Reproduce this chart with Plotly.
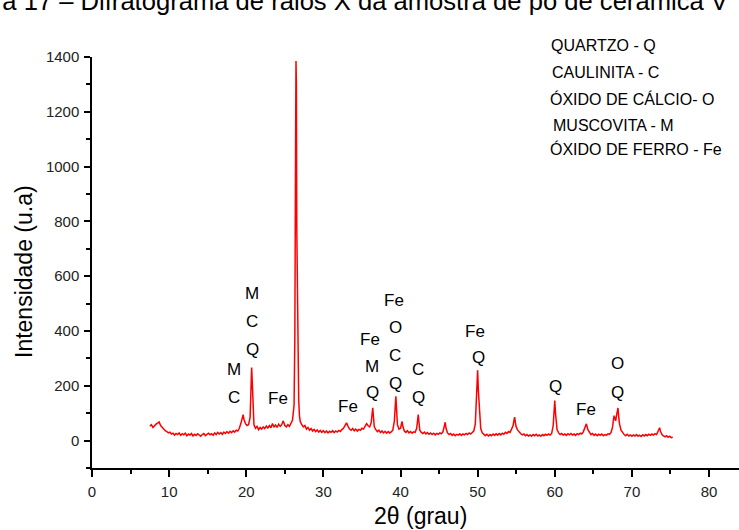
import plotly.graph_objects as go

# ---- data ----
two_theta = [
    7.5, 7.7, 7.9, 8.1, 8.3, 8.5, 8.7, 8.9, 9.1, 9.3, 9.5, 9.7, 9.9, 10.1, 10.3, 10.5, 10.7, 10.9,
    11.1, 11.3, 11.5, 11.7, 11.9, 12.1, 12.3, 12.5, 12.7, 12.9, 13.1, 13.3, 13.5, 13.7, 13.9,
    14.1, 14.3, 14.5, 14.7, 14.9, 15.1, 15.3, 15.5, 15.7, 15.9, 16.1, 16.3, 16.5, 16.7, 16.9,
    17.1, 17.3, 17.5, 17.7, 17.9, 18.1, 18.3, 18.5, 18.7, 18.9, 19.1, 19.3, 19.5, 19.6, 19.7,
    19.9, 20.1, 20.3, 20.5, 20.6, 20.7, 20.8, 20.9, 21.0, 21.2, 21.4, 21.6, 21.8, 22.0, 22.2,
    22.4, 22.6, 22.8, 23.0, 23.2, 23.4, 23.6, 23.8, 24.0, 24.2, 24.4, 24.6, 24.8, 25.0, 25.2,
    25.4, 25.6, 25.8, 26.0, 26.2, 26.3, 26.4, 26.45, 26.5, 26.55, 26.65, 26.7, 26.8, 26.9,
    27.0, 27.2, 27.4, 27.6, 27.8, 28.0, 28.2, 28.4, 28.6, 28.8, 29.0, 29.2, 29.4, 29.6, 29.8,
    30.0, 30.2, 30.4, 30.6, 30.8, 31.0, 31.2, 31.4, 31.6, 31.8, 32.0, 32.2, 32.4, 32.6, 32.8,
    33.0, 33.2, 33.4, 33.6, 33.8, 34.0, 34.2, 34.4, 34.6, 34.8, 35.0, 35.2, 35.4, 35.6, 35.8,
    36.0, 36.2, 36.3, 36.4, 36.5, 36.6, 36.8, 37.0, 37.2, 37.4, 37.6, 37.8, 38.0, 38.2, 38.4,
    38.6, 38.8, 39.0, 39.2, 39.3, 39.4, 39.5, 39.6, 39.8, 40.0, 40.2, 40.3, 40.5, 40.7, 40.9,
    41.1, 41.3, 41.5, 41.7, 41.9, 42.1, 42.2, 42.3, 42.4, 42.5, 42.7, 42.9, 43.1, 43.3, 43.5,
    43.7, 43.9, 44.1, 44.3, 44.5, 44.7, 44.9, 45.1, 45.3, 45.5, 45.7, 45.8, 45.9, 46.1, 46.3,
    46.5, 46.7, 46.9, 47.1, 47.3, 47.5, 47.7, 47.9, 48.1, 48.3, 48.5, 48.7, 48.9, 49.1, 49.3,
    49.5, 49.7, 49.8, 49.9, 50.0, 50.1, 50.2, 50.3, 50.4, 50.6, 50.8, 51.0, 51.2, 51.4, 51.6,
    51.8, 52.0, 52.2, 52.4, 52.6, 52.8, 53.0, 53.2, 53.4, 53.6, 53.8, 54.0, 54.2, 54.4, 54.6,
    54.7, 54.8, 54.9, 55.0, 55.2, 55.4, 55.6, 55.8, 56.0, 56.2, 56.4, 56.6, 56.8, 57.0, 57.2,
    57.4, 57.6, 57.8, 58.0, 58.2, 58.4, 58.6, 58.8, 59.0, 59.2, 59.4, 59.6, 59.8, 59.9, 60.0,
    60.1, 60.2, 60.3, 60.5, 60.7, 60.9, 61.1, 61.3, 61.5, 61.7, 61.9, 62.1, 62.3, 62.5, 62.7,
    62.9, 63.1, 63.3, 63.5, 63.7, 63.9, 64.1, 64.3, 64.5, 64.7, 64.9, 65.1, 65.3, 65.5, 65.7,
    65.9, 66.1, 66.3, 66.5, 66.7, 66.9, 67.1, 67.3, 67.5, 67.6, 67.7, 67.8, 67.9, 68.0, 68.1,
    68.2, 68.3, 68.4, 68.6, 68.8, 69.0, 69.2, 69.4, 69.6, 69.8, 70.0, 70.2, 70.4, 70.6, 70.8,
    71.0, 71.2, 71.4, 71.6, 71.8, 72.0, 72.2, 72.4, 72.6, 72.8, 73.0, 73.2, 73.4, 73.5, 73.6,
    73.7, 73.9, 74.1, 74.3, 74.5, 74.7, 74.9, 75.1, 75.3,
]
intensity = [
    52, 58, 48, 55, 60, 64, 68, 55, 48, 42, 36, 33, 28, 31, 24, 27, 20, 26,
    22, 28, 19, 25, 21, 27, 18, 24, 20, 26, 17, 23, 19, 25, 20,
    16, 22, 26, 18, 23, 27, 21, 25, 19, 28, 22, 30, 24, 29, 23,
    31, 26, 33, 27, 34, 29, 36, 31, 38, 35, 45, 62, 88, 95, 78,
    62, 55, 58, 85, 180, 267, 200, 90, 58, 45, 52, 40, 48, 42, 50,
    44, 53, 46, 55, 47, 62, 50, 57, 48, 60, 52, 58, 72, 55, 50,
    58, 52, 62, 75, 130, 380, 1100, 1385, 1300, 780, 380, 296, 150, 90,
    70, 58, 50, 55, 42, 48, 38, 44, 35, 41, 33, 39, 31, 37, 30,
    36, 29, 35, 28, 34, 30, 36, 29, 35, 31, 37, 33, 40, 45, 55,
    65, 52, 42, 38, 44, 36, 42, 35, 41, 38, 45, 42, 55, 62, 54,
    50, 65, 95, 120, 85, 50, 40, 33, 38, 29, 35, 28, 34, 27, 33,
    28, 32, 38, 70, 120, 162, 110, 58, 42, 45, 70, 52, 35, 30, 36,
    28, 33, 27, 32, 30, 45, 70, 95, 65, 38, 30, 26, 31, 24, 29,
    23, 28, 22, 27, 21, 26, 23, 28, 25, 32, 55, 67, 45, 28, 22,
    26, 19, 24, 18, 23, 20, 25, 19, 24, 21, 26, 22, 28, 24, 30,
    35, 60, 110, 200, 257, 180, 120, 80, 45, 28, 22, 18, 23, 17, 22,
    18, 24, 19, 25, 20, 26, 21, 27, 23, 30, 26, 33, 30, 42, 55,
    72, 86, 65, 50, 38, 30, 25, 21, 24, 18, 22, 17, 21, 16, 22,
    18, 23, 17, 21, 16, 22, 18, 23, 19, 24, 20, 26, 55, 110, 146,
    100, 60, 40, 28, 22, 26, 20, 24, 19, 25, 21, 26, 20, 24, 19,
    25, 22, 27, 24, 32, 45, 61, 40, 28, 22, 26, 19, 24, 18, 23,
    19, 24, 18, 22, 19, 25, 23, 30, 50, 75, 91, 80, 72, 90, 110,
    119, 85, 60, 38, 28, 22, 18, 23, 17, 21, 16, 21, 17, 22, 16,
    20, 15, 21, 17, 22, 18, 23, 19, 24, 20, 25, 22, 32, 42, 47,
    35, 22, 17, 14, 18, 12, 16, 11, 12,
]

# phase labels: (2theta, intensity, text)
label_x = [26.6, 26.6, 20.75, 20.75, 20.75, 18.45, 18.45, 24.08, 33.2,
           36.1, 36.35, 36.35, 39.1, 39.3, 39.32, 39.4, 42.3, 42.3,
           49.7, 50.1, 60.16, 64.0, 68.15, 68.15]
label_y = [1535, 1436, 538, 434, 331, 260, 157, 152, 124,
           370, 272, 175, 511, 412, 312, 209, 258, 158,
           400, 304, 197, 112, 280, 176]
label_text = ["M", "Q", "M", "C", "Q", "M", "C", "Fe", "Fe",
              "Fe", "M", "Q", "Fe", "O", "C", "Q", "C", "Q",
              "Fe", "Q", "Q", "Fe", "O", "Q"]

key_lines = ["QUARTZO - Q", "CAULINITA - C", "ÓXIDO DE CÁLCIO- O",
             "MUSCOVITA - M", "ÓXIDO DE FERRO - Fe"]

x_ticks = [0, 10, 20, 30, 40, 50, 60, 70, 80]
y_ticks = [0, 200, 400, 600, 800, 1000, 1200, 1400]

title_text = "Figura 17 – Difratograma de raios X da amostra de pó de cerâmica V"

FONT = "Arial, Liberation Sans, sans-serif"
W, H = 739, 530
ML, MR, MT, MB = 92, 0, 57, 62
PW, PH = W - ML - MR, H - MT - MB


def px_x(px):
    return (px - ML) / PW


def px_y(py):
    return (H - MB - py) / PH


fig = go.Figure()
fig.add_trace(go.Scatter(
    x=two_theta, y=intensity, mode="lines",
    line=dict(color="#ff0000", width=1.5), showlegend=False,
    hoverinfo="skip",
))

annotations = []
for xv, yv, t in zip(label_x, label_y, label_text):
    annotations.append(dict(
        x=xv, y=yv, xref="x", yref="y", text=t, showarrow=False,
        xanchor="center", yanchor="middle",
        font=dict(family=FONT, size=17, color="black"),
    ))

key_px = [(549, 45), (550, 72.5), (548, 99), (551, 125), (548, 148.5)]
for (kx, ky), t in zip(key_px, key_lines):
    annotations.append(dict(
        x=px_x(kx), y=px_y(ky), xref="paper", yref="paper", text=t,
        showarrow=False, xanchor="left", yanchor="middle",
        font=dict(family=FONT, size=16, color="black"),
    ))

# axis titles
annotations.append(dict(
    x=px_x(420), y=px_y(516), xref="paper", yref="paper", text="2θ (grau)",
    showarrow=False, xanchor="center", yanchor="middle",
    font=dict(family=FONT, size=23, color="black"),
))
annotations.append(dict(
    x=px_x(24), y=px_y(272), xref="paper", yref="paper",
    text="Intensidade (u.a)", textangle=-90,
    showarrow=False, xanchor="center", yanchor="middle",
    font=dict(family=FONT, size=23, color="black"),
))
# cut-off caption at the very top
annotations.append(dict(
    x=px_x(-58), y=px_y(17), xref="paper", yref="paper", text=title_text,
    showarrow=False, xanchor="left", yanchor="bottom",
    font=dict(family=FONT, size=25.6, color="black"),
))

fig.update_layout(
    width=W, height=H,
    margin=dict(l=ML, r=MR, t=MT, b=MB, pad=0),
    paper_bgcolor="white", plot_bgcolor="white",
    font=dict(family=FONT, color="black"),
    annotations=annotations,
    xaxis=dict(
        range=[0, PW / 7.7125], tickvals=x_ticks, ticktext=[str(v) for v in x_ticks],
        showline=True, linecolor="black", linewidth=1.5,
        ticks="outside", ticklen=7, tickwidth=1.5, tickcolor="black",
        minor=dict(dtick=5, tick0=0, ticks="outside", ticklen=4, tickwidth=1.5,
                   tickcolor="black", showgrid=False),
        showgrid=False, zeroline=False, ticklabelstandoff=2,
        tickfont=dict(family=FONT, size=15, color="#222"),
    ),
    yaxis=dict(
        range=[-100, 1400], tickvals=y_ticks, ticktext=[str(v) for v in y_ticks],
        showline=True, linecolor="black", linewidth=1.5,
        ticks="outside", ticklen=6, tickwidth=1.5, tickcolor="black",
        minor=dict(dtick=100, tick0=0, ticks="outside", ticklen=4, tickwidth=1.5,
                   tickcolor="black", showgrid=False),
        showgrid=False, zeroline=False, ticklabelstandoff=2,
        tickfont=dict(family=FONT, size=15, color="#222"),
    ),
)

fig.write_html("out.html", config={"displayModeBar": False},
               post_script="document.body.style.margin='0';")
